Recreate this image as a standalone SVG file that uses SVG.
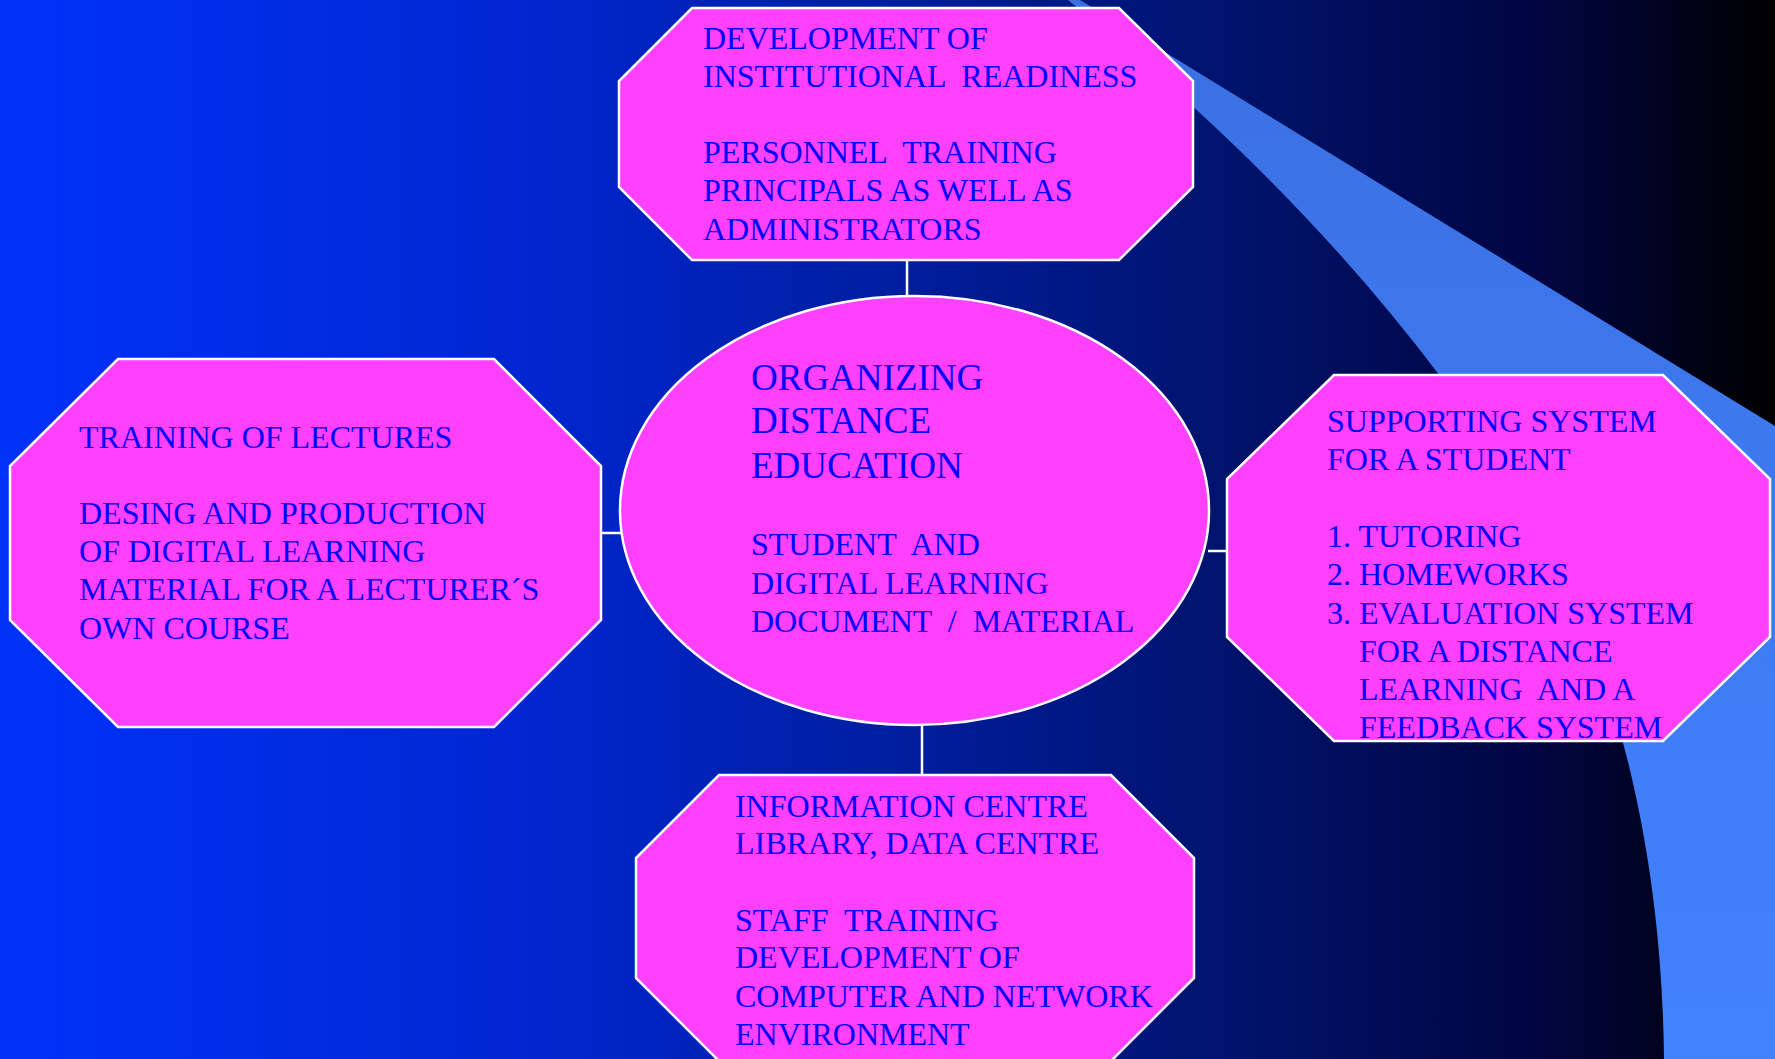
<svg xmlns="http://www.w3.org/2000/svg" width="1775" height="1059" viewBox="0 0 1775 1059">
  <defs>
    <linearGradient id="bg" x1="0" y1="0" x2="1" y2="0">
      <stop offset="0" stop-color="#0032FA"/>
      <stop offset="0.3" stop-color="#0026D0"/>
      <stop offset="0.5" stop-color="#001EA0"/>
      <stop offset="0.7" stop-color="#00126A"/>
      <stop offset="0.87" stop-color="#000540"/>
      <stop offset="1" stop-color="#000000"/>
    </linearGradient>
    <linearGradient id="swoosh" x1="0" y1="0" x2="0" y2="1">
      <stop offset="0" stop-color="#3A6FE0"/>
      <stop offset="0.5" stop-color="#3F7AF2"/>
      <stop offset="1" stop-color="#4282FC"/>
    </linearGradient>
    <style>
      .node { fill: #FF40FF; stroke: #FFFFFF; stroke-width: 2.5; }
      .conn { stroke: #FFFFFF; stroke-width: 2.5; fill: none; }
      .t { font-family: "Liberation Serif", "Times New Roman", serif; font-size: 32px; fill: #0000FF; white-space: pre; }
      .title { font-size: 37px; }
    </style>
  </defs>

  <rect x="0" y="0" width="1775" height="1059" fill="url(#bg)"/>
  <path d="M1068,0 L1080,0 L1775,426 L1775,1059 L1664,1059 C1662,860 1620,600 1440,376 C1330,230 1200,105 1068,0 Z" fill="url(#swoosh)"/>

  <g id="connectors">
    <line class="conn" x1="907" y1="260" x2="907" y2="296"/>
    <line class="conn" x1="601" y1="533" x2="621" y2="533"/>
    <line class="conn" x1="1208" y1="551" x2="1227" y2="551"/>
    <line class="conn" x1="922" y1="725" x2="922" y2="775"/>
  </g>

  <g id="node-top">
    <polygon class="node" points="692,8 1119,8 1193,81 1193,187 1119,260 692,260 619,187 619,81"/>
    <text class="t" x="703" y="49">DEVELOPMENT OF</text>
    <text class="t" x="703" y="87">INSTITUTIONAL  READINESS</text>
    <text class="t" x="703" y="163">PERSONNEL  TRAINING</text>
    <text class="t" x="703" y="201">PRINCIPALS AS WELL AS</text>
    <text class="t" x="703" y="240">ADMINISTRATORS</text>
  </g>

  <g id="node-left">
    <polygon class="node" points="118,359 494,359 601,466 601,620 494,727 118,727 10,620 10,466"/>
    <text class="t" x="79" y="448">TRAINING OF LECTURES</text>
    <text class="t" x="79" y="524">DESING AND PRODUCTION</text>
    <text class="t" x="79" y="562">OF DIGITAL LEARNING</text>
    <text class="t" x="79" y="600">MATERIAL FOR A LECTURER´S</text>
    <text class="t" x="79" y="639">OWN COURSE</text>
  </g>

  <g id="node-center">
    <ellipse class="node" cx="914.5" cy="510.5" rx="294.5" ry="214.5"/>
    <text class="t title" x="751" y="390">ORGANIZING</text>
    <text class="t title" x="751" y="433">DISTANCE</text>
    <text class="t title" x="751" y="478">EDUCATION</text>
    <text class="t" x="751" y="555">STUDENT  AND</text>
    <text class="t" x="751" y="594">DIGITAL LEARNING</text>
    <text class="t" x="751" y="632">DOCUMENT  /  MATERIAL</text>
  </g>

  <g id="node-right">
    <polygon class="node" points="1334,375 1663,375 1770,479 1770,637 1663,741 1334,741 1227,637 1227,479"/>
    <text class="t" x="1327" y="432">SUPPORTING SYSTEM</text>
    <text class="t" x="1327" y="470">FOR A STUDENT</text>
    <text class="t" x="1327" y="547">1. TUTORING</text>
    <text class="t" x="1327" y="585">2. HOMEWORKS</text>
    <text class="t" x="1327" y="624">3. EVALUATION SYSTEM</text>
    <text class="t" x="1359" y="662">FOR A DISTANCE</text>
    <text class="t" x="1359" y="700">LEARNING  AND A</text>
    <text class="t" x="1359" y="738">FEEDBACK SYSTEM</text>
  </g>

  <g id="node-bottom">
    <polygon class="node" points="719,775 1111,775 1194,858 1194,978 1111,1061 719,1061 636,978 636,858"/>
    <text class="t" x="735" y="817">INFORMATION CENTRE</text>
    <text class="t" x="735" y="854">LIBRARY, DATA CENTRE</text>
    <text class="t" x="735" y="931">STAFF  TRAINING</text>
    <text class="t" x="735" y="968">DEVELOPMENT OF</text>
    <text class="t" x="735" y="1007">COMPUTER AND NETWORK</text>
    <text class="t" x="735" y="1045">ENVIRONMENT</text>
  </g>
</svg>
